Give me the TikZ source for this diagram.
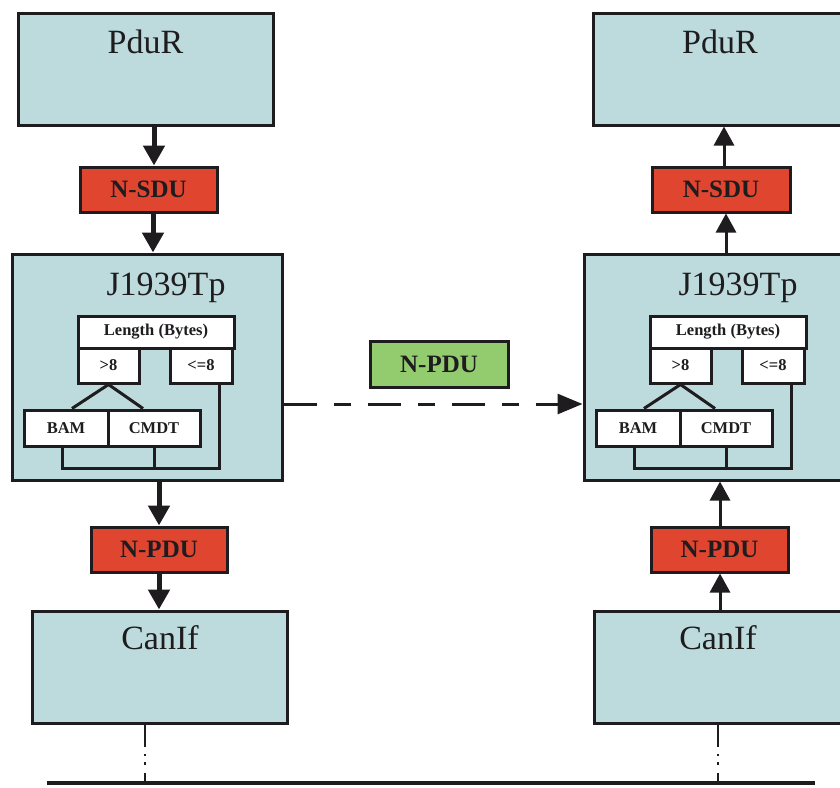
\documentclass[tikz,border=0pt]{standalone}
\usepackage{fontspec}
\setmainfont{Liberation Serif}
\usetikzlibrary{arrows.meta,calc}
\definecolor{teal1}{RGB}{189,219,220}
\definecolor{red1}{RGB}{224,69,48}
\definecolor{green1}{RGB}{146,204,110}
\definecolor{ink}{RGB}{30,28,30}
\tikzset{
  bigbox/.style={draw=ink,line width=3pt,fill=teal1,minimum width=#1,minimum height=112pt,inner sep=0pt},
  tpbox/.style={draw=ink,line width=3pt,fill=teal1,minimum width=270pt,minimum height=226pt,inner sep=0pt},
  redbox/.style={draw=ink,line width=3pt,fill=red1,minimum width=#1,minimum height=45pt,inner sep=0pt,font=\fontsize{25}{25}\selectfont\bfseries,text=ink},
  greenbox/.style={draw=ink,line width=3pt,fill=green1,minimum width=138pt,minimum height=46pt,inner sep=0pt,font=\fontsize{25}{25}\selectfont\bfseries,text=ink},
  wbox/.style={draw=ink,line width=3pt,fill=white,inner sep=0pt,font=\fontsize{16.5}{16.5}\selectfont\bfseries,text=ink},
  title/.style={font=\fontsize{34}{34}\selectfont,text=ink,inner sep=0pt},
  darr/.style={draw=ink,line width=5pt,-{Triangle[length=20pt,width=21pt]}},
  uarr/.style={draw=ink,line width=3pt,-{Triangle[length=19pt,width=20pt]}},
  tree/.style={draw=ink,line width=3pt},
}
\begin{document}
\begin{tikzpicture}[x=1pt,y=-1pt]
\useasboundingbox (0,0) rectangle (840,787);
\begin{scope}
\clip (0,0) rectangle (840,787);
% ---- left column
\node[bigbox=255pt] (pdurL) at (145.5,69) {};
\node[title] (pdurLt) at (145.5,42) {PduR};
\node[redbox=137pt] (nsduL) at (148.5,189.5) {N-SDU};
\node[tpbox] (tpL) at (147,367) {};
\node[title] (tpLt) at (166,288) {J1939Tp};
\node[redbox=136pt] (npduL) at (159,549.5) {N-PDU};
\node[bigbox=255pt] (canL) at (159.5,667) {};
\node[title] (canLt) at (160,638) {CanIf};
% ---- right column
\node[bigbox=255pt] (pdurR) at (720.5,69) {};
\node[title] (pdurRt) at (720,42) {PduR};
\node[redbox=138pt] (nsduR) at (721,189.5) {N-SDU};
\node[tpbox] (tpR) at (719,367) {};
\node[title] (tpRt) at (738,288) {J1939Tp};
\node[redbox=137pt] (npduR) at (719.5,549.5) {N-PDU};
\node[bigbox=255pt] (canR) at (721.5,667) {};
\node[title] (canRt) at (718,638) {CanIf};
% ---- middle
\node[greenbox] (npduM) at (439,364) {N-PDU};
% ---- inner trees
\foreach \s/\n in {0/L,572/R}{
\begin{scope}[xshift=\s pt]
\node[wbox,minimum width=156pt,minimum height=32pt] (len\n) at (156,332) {Length (Bytes)};
\node[wbox,minimum width=61pt,minimum height=35pt] (gt\n) at (108.5,365.5) {>8};
\node[wbox,minimum width=62pt,minimum height=35pt] (le\n) at (201,365.5) {<=8};
\node[wbox,minimum width=84pt,minimum height=36pt] (bam\n) at (66,428) {BAM};
\node[wbox,minimum width=92pt,minimum height=36pt] (cmdt\n) at (154,428) {CMDT};
\coordinate (loopa\n) at (62,468);
\coordinate (loopc\n) at (219,468);
\draw[tree] (gt\n.south) -- (bam\n.north -| 72,0);
\draw[tree] (gt\n.south) -- (cmdt\n.north -| 143,0);
\draw[tree] (bam\n.south -| loopa\n) -- (loopa\n) -- (loopc\n) -- (le\n.south -| loopc\n);
\draw[tree] (cmdt\n.south) -- (cmdt\n.south |- loopa\n);
\end{scope}}
% ---- arrows left (down)
\draw[darr] (pdurL.south -| 154,0) -- (nsduL.north -| 154,0);
\draw[darr] (nsduL.south -| 153,0) -- (tpL.north -| 153,0);
\draw[darr] (tpL.south -| 159,0) -- (npduL.north -| 159,0);
\draw[darr] (npduL.south -| 159,0) -- (canL.north -| 159,0);
% ---- arrows right (up)
\draw[uarr] (nsduR.north -| 724,0) -- (pdurR.south -| 724,0);
\draw[uarr] (tpR.north -| 726,0) -- (nsduR.south -| 726,0);
\draw[uarr] (npduR.north -| 720,0) -- (tpR.south -| 720,0);
\draw[uarr] (canR.north -| 720,0) -- (npduR.south -| 720,0);
% ---- dashed arrow
\draw[draw=ink,line width=3pt,dash pattern=on 33pt off 17pt on 17pt off 17pt,-{Triangle[length=25pt,width=20pt]}]
  (tpL.east |- 0,404) -- (tpR.west |- 0,404);
% ---- bus
\coordinate (busL) at (47,783);
\coordinate (busR) at (815,783);
\draw[draw=ink,line width=4pt] (busL) -- (busR);
\draw[draw=ink,line width=2pt,dash pattern=on 22pt off 7pt on 2pt off 6pt on 3pt off 8pt on 40pt]
  (canL.south -| 145,0) -- (busL -| 145,0);
\draw[draw=ink,line width=2pt,dash pattern=on 22pt off 7pt on 2pt off 6pt on 3pt off 8pt on 40pt]
  (canR.south -| 718,0) -- (busL -| 718,0);
\end{scope}
\end{tikzpicture}
\end{document}
